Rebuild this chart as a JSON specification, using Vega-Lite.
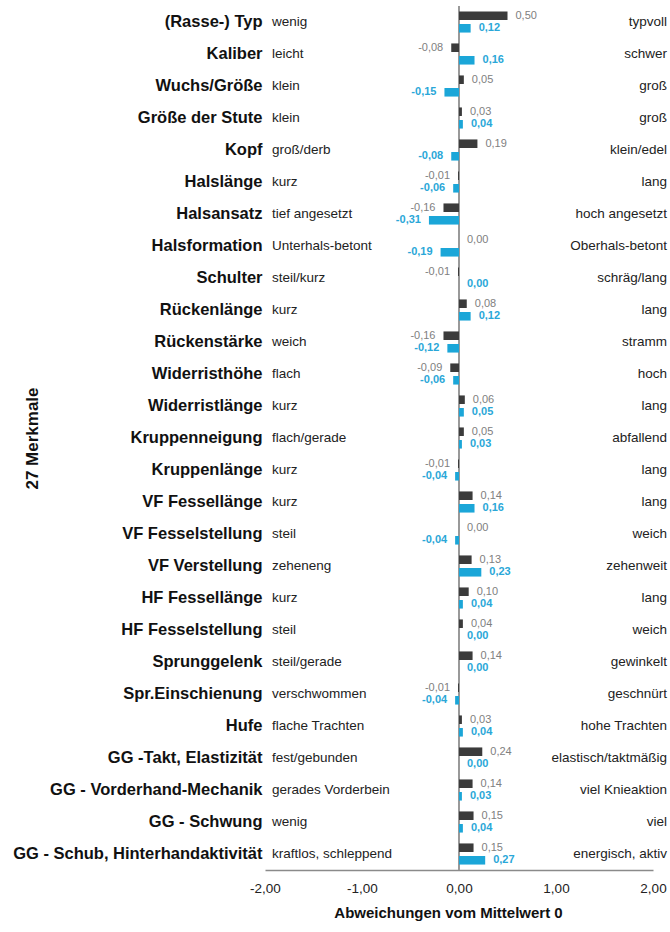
{
  "$schema": "https://vega.github.io/schema/vega-lite/v6.json",
  "width": 388,
  "height": 864,
  "autosize": {"type": "none"},
  "padding": {"left": 265, "top": 6, "right": 17, "bottom": 62},
  "background": "white",
  "config": {
    "locale": {"number": {"decimal": ",", "thousands": ".", "grouping": [3], "currency": ["", " €"], "minus": "-"}},
    "font": "Liberation Sans",
    "view": {"stroke": null},
    "axis": {"grid": false}
  },
  "data": {
    "values": [
      {"trait": "(Rasse-) Typ", "low": "wenig", "high": "typvoll", "a": 0.50, "b": 0.12},
      {"trait": "Kaliber", "low": "leicht", "high": "schwer", "a": -0.08, "b": 0.16},
      {"trait": "Wuchs/Größe", "low": "klein", "high": "groß", "a": 0.05, "b": -0.15},
      {"trait": "Größe der Stute", "low": "klein", "high": "groß", "a": 0.03, "b": 0.04},
      {"trait": "Kopf", "low": "groß/derb", "high": "klein/edel", "a": 0.19, "b": -0.08},
      {"trait": "Halslänge", "low": "kurz", "high": "lang", "a": -0.01, "b": -0.06},
      {"trait": "Halsansatz", "low": "tief angesetzt", "high": "hoch angesetzt", "a": -0.16, "b": -0.31},
      {"trait": "Halsformation", "low": "Unterhals-betont", "high": "Oberhals-betont", "a": 0.00, "b": -0.19},
      {"trait": "Schulter", "low": "steil/kurz", "high": "schräg/lang", "a": -0.01, "b": 0.00},
      {"trait": "Rückenlänge", "low": "kurz", "high": "lang", "a": 0.08, "b": 0.12},
      {"trait": "Rückenstärke", "low": "weich", "high": "stramm", "a": -0.16, "b": -0.12},
      {"trait": "Widerristhöhe", "low": "flach", "high": "hoch", "a": -0.09, "b": -0.06},
      {"trait": "Widerristlänge", "low": "kurz", "high": "lang", "a": 0.06, "b": 0.05},
      {"trait": "Kruppenneigung", "low": "flach/gerade", "high": "abfallend", "a": 0.05, "b": 0.03},
      {"trait": "Kruppenlänge", "low": "kurz", "high": "lang", "a": -0.01, "b": -0.04},
      {"trait": "VF Fessellänge", "low": "kurz", "high": "lang", "a": 0.14, "b": 0.16},
      {"trait": "VF Fesselstellung", "low": "steil", "high": "weich", "a": 0.00, "b": -0.04},
      {"trait": "VF Verstellung", "low": "zeheneng", "high": "zehenweit", "a": 0.13, "b": 0.23},
      {"trait": "HF Fessellänge", "low": "kurz", "high": "lang", "a": 0.10, "b": 0.04},
      {"trait": "HF Fesselstellung", "low": "steil", "high": "weich", "a": 0.04, "b": 0.00},
      {"trait": "Sprunggelenk", "low": "steil/gerade", "high": "gewinkelt", "a": 0.14, "b": 0.00},
      {"trait": "Spr.Einschienung", "low": "verschwommen", "high": "geschnürt", "a": -0.01, "b": -0.04},
      {"trait": "Hufe", "low": "flache Trachten", "high": "hohe Trachten", "a": 0.03, "b": 0.04},
      {"trait": "GG -Takt, Elastizität", "low": "fest/gebunden", "high": "elastisch/taktmäßig", "a": 0.24, "b": 0.00},
      {"trait": "GG - Vorderhand-Mechanik", "low": "gerades Vorderbein", "high": "viel Knieaktion", "a": 0.14, "b": 0.03},
      {"trait": "GG - Schwung", "low": "wenig", "high": "viel", "a": 0.15, "b": 0.04},
      {"trait": "GG - Schub, Hinterhandaktivität", "low": "kraftlos, schleppend", "high": "energisch, aktiv", "a": 0.15, "b": 0.27}
    ]
  },
  "layer": [
    {
      "mark": {"type": "rule", "color": "#9a9a9a", "strokeWidth": 1.2},
      "encoding": {"x": {"datum": 0, "type": "quantitative"}}
    },
    {
      "transform": [{"fold": ["a", "b"], "as": ["series", "value"]}],
      "mark": {"type": "bar"},
      "encoding": {
        "x": {
          "field": "value", "type": "quantitative",
          "scale": {"domain": [-2, 2], "nice": false, "zero": true},
          "axis": {
            "title": "Abweichungen vom Mittelwert 0", "titleFontSize": 15, "titleFontWeight": "bold", "titleColor": "#111",
            "titlePadding": 11, "titleX": 183, "format": ".2f", "values": [-2, -1, 0, 1, 2], "ticks": false, "labelFlush": false,
            "domainColor": "#8a8a8a", "domainWidth": 1.5, "labelFontSize": 13.5, "labelColor": "#222", "labelPadding": 11
          }
        },
        "y": {
          "field": "trait", "type": "nominal", "sort": null,
          "scale": {"paddingInner": 0.34, "paddingOuter": 0.17},
          "axis": {
            "title": "27 Merkmale", "titleFontSize": 17, "titleFontWeight": "bold", "titleColor": "#111",
            "titleX": -224, "titleY": 432, "titleAngle": -90,
            "labelFontSize": 16.5, "labelFontWeight": "bold", "labelColor": "#111", "labelPadding": 3,
            "ticks": false, "domain": false, "labelLimit": 400
          }
        },
        "yOffset": {"field": "series", "type": "nominal", "scale": {"domain": ["a", "b"], "paddingInner": 0.32, "paddingOuter": 0}},
        "color": {"field": "series", "type": "nominal", "scale": {"domain": ["a", "b"], "range": ["#3b3b3b", "#1ba6d8"]}, "legend": null}
      }
    },
    {
      "transform": [{"fold": ["a"], "as": ["series", "value"]}, {"filter": "datum.value >= 0"}],
      "mark": {"type": "text", "align": "left", "dx": 8, "fontSize": 11, "color": "#808080"},
      "encoding": {
        "x": {"field": "value", "type": "quantitative"},
        "y": {"field": "trait", "type": "nominal", "sort": null},
        "yOffset": {"field": "series", "type": "nominal", "scale": {"domain": ["a", "b"]}},
        "text": {"field": "value", "type": "quantitative", "format": ".2f"}
      }
    },
    {
      "transform": [{"fold": ["a"], "as": ["series", "value"]}, {"filter": "datum.value < 0"}],
      "mark": {"type": "text", "align": "right", "dx": -8, "fontSize": 11, "color": "#808080"},
      "encoding": {
        "x": {"field": "value", "type": "quantitative"},
        "y": {"field": "trait", "type": "nominal", "sort": null},
        "yOffset": {"field": "series", "type": "nominal", "scale": {"domain": ["a", "b"]}},
        "text": {"field": "value", "type": "quantitative", "format": ".2f"}
      }
    },
    {
      "transform": [{"fold": ["b"], "as": ["series", "value"]}, {"filter": "datum.value >= 0"}],
      "mark": {"type": "text", "align": "left", "dx": 8, "fontSize": 11, "fontWeight": "bold", "color": "#2aa7d8"},
      "encoding": {
        "x": {"field": "value", "type": "quantitative"},
        "y": {"field": "trait", "type": "nominal", "sort": null},
        "yOffset": {"field": "series", "type": "nominal", "scale": {"domain": ["a", "b"]}},
        "text": {"field": "value", "type": "quantitative", "format": ".2f"}
      }
    },
    {
      "transform": [{"fold": ["b"], "as": ["series", "value"]}, {"filter": "datum.value < 0"}],
      "mark": {"type": "text", "align": "right", "dx": -8, "fontSize": 11, "fontWeight": "bold", "color": "#2aa7d8"},
      "encoding": {
        "x": {"field": "value", "type": "quantitative"},
        "y": {"field": "trait", "type": "nominal", "sort": null},
        "yOffset": {"field": "series", "type": "nominal", "scale": {"domain": ["a", "b"]}},
        "text": {"field": "value", "type": "quantitative", "format": ".2f"}
      }
    },
    {
      "mark": {"type": "text", "align": "left", "dx": 7, "fontSize": 13.5, "color": "#222222"},
      "encoding": {
        "x": {"datum": -2, "type": "quantitative"},
        "y": {"field": "trait", "type": "nominal", "sort": null},
        "text": {"field": "low", "type": "nominal"}
      }
    },
    {
      "mark": {"type": "text", "align": "right", "dx": 14, "fontSize": 13.5, "color": "#222222"},
      "encoding": {
        "x": {"datum": 2, "type": "quantitative"},
        "y": {"field": "trait", "type": "nominal", "sort": null},
        "text": {"field": "high", "type": "nominal"}
      }
    }
  ]
}
